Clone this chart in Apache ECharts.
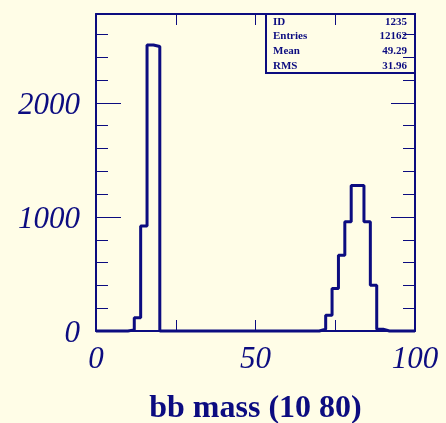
<!DOCTYPE html>
<html>
<head>
<meta charset="utf-8">
<script src="https://cdn.jsdelivr.net/npm/echarts@6/dist/echarts.min.js"></script>
<style>
  html, body { margin: 0; padding: 0; background: #fffde7; }
  #main { width: 446px; height: 423px; }
</style>
</head>
<body>
<div id="main"></div>
<script>
// histogram: 50 bins of width 2 from 0 to 100
var binStart = 0;
var binWidth = 2;
var counts = [
  0, 0, 0, 0, 0, 10, 116, 920, 2508, 2495,
  0, 0, 0, 0, 0, 0, 0, 0, 0, 0,
  0, 0, 0, 0, 0, 0, 0, 0, 0, 0,
  0, 0, 0, 0, 0, 15, 139, 373, 665, 959,
  1277, 1277, 959, 402, 15, 0, 0, 0, 0, 0
];
var xLabels = [0, 50, 100];
var yLabels = [0, 1000, 2000];
var statNames = ["ID", "Entries", "Mean", "RMS"];
var statValues = ["1235", "12162", "49.29", "31.96"];
var xTitle = "bb mass (10 80)";

var navy = "#0c0c80";
var bg = "#fffde7";

// step points at bin left edges, plus the last right edge
var stepData = counts.map(function (c, i) { return [binStart + i * binWidth, c]; });
stepData.push([binStart + counts.length * binWidth, counts[counts.length - 1]]);

var chart = echarts.init(document.getElementById("main"));

var labelFont = {
  fontFamily: "Liberation Serif",
  fontStyle: "italic",
  fontSize: 31,
  color: navy
};

function yAx(pos, interval, tickLen, withLine, withLabel) {
  return {
    type: "value", position: pos, min: 0, max: 2780, interval: interval,
    axisLine: { show: withLine, onZero: false, lineStyle: { color: navy, width: 2 } },
    axisTick: { show: true, inside: true, length: tickLen, lineStyle: { color: navy, width: 1 } },
    axisLabel: Object.assign({
      show: withLabel, margin: 16,
      formatter: function (v) { return yLabels.indexOf(v) >= 0 ? "{d|" + v + "}" : ""; },
      rich: { d: Object.assign({ padding: [6, 0, 0, 0] }, labelFont) }
    }, labelFont),
    splitLine: { show: false },
    z: 5
  };
}

function xAx(pos, withLabel) {
  return {
    type: "value", position: pos, min: 0, max: 100, interval: 25,
    axisLine: { show: true, onZero: false, lineStyle: { color: navy, width: 2 } },
    axisTick: { show: true, inside: true, length: 11, lineStyle: { color: navy, width: 1 } },
    axisLabel: Object.assign({
      show: withLabel, margin: 13,
      formatter: function (v) { return xLabels.indexOf(v) >= 0 ? String(v) : ""; }
    }, labelFont),
    splitLine: { show: false },
    z: 5
  };
}

var bottomAxis = xAx("bottom", true);
bottomAxis.name = xTitle;
bottomAxis.nameLocation = "middle";
bottomAxis.nameGap = 62;
bottomAxis.nameTextStyle = { fontFamily: "Liberation Serif", fontWeight: "bold", fontSize: 32, color: navy };

var option = {
  backgroundColor: bg,
  animation: false,
  grid: { left: 96, right: 31, top: 14, bottom: 92, containLabel: false, outerBoundsMode: "none" },
  xAxis: [bottomAxis, xAx("top", false)],
  yAxis: [
    yAx("left", 1000, 25, true, true),
    yAx("left", 200, 12, false, false),
    yAx("right", 1000, 24, true, false),
    yAx("right", 200, 12, false, false)
  ],
  graphic: [
    {
      type: "rect", z: 1,
      shape: { x: 266, y: 14, width: 149, height: 59 },
      style: { fill: bg, stroke: navy, lineWidth: 2 }
    }
  ].concat(statNames.map(function (n, i) {
    return {
      type: "text", z: 2, left: 273, top: 16.5 + i * 14.6,
      style: { text: n, fontFamily: "Liberation Serif", fontWeight: "bold", fontSize: 11, fill: navy }
    };
  })).concat(statValues.map(function (v, i) {
    return {
      type: "text", z: 2, right: 446 - 407, top: 16.5 + i * 14.6,
      style: { text: v, fontFamily: "Liberation Serif", fontWeight: "bold", fontSize: 11, fill: navy, textAlign: "right" }
    };
  })),
  series: [
    {
      type: "line",
      step: "end",
      data: stepData,
      showSymbol: false,
      clip: false,
      lineStyle: { color: navy, width: 3 },
      z: 4
    }
  ]
};

chart.setOption(option);
</script>
</body>
</html>
